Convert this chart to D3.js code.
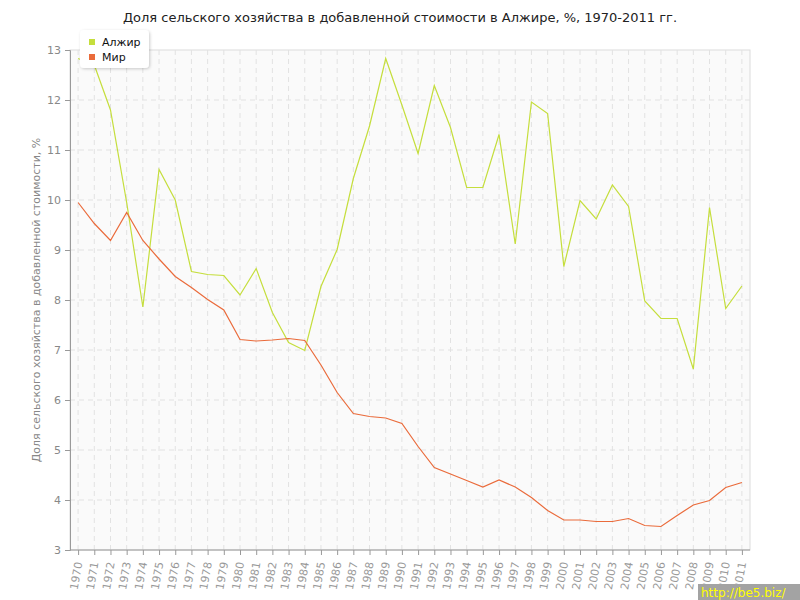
<!DOCTYPE html>
<html>
<head>
<meta charset="utf-8">
<script src="https://cdn.jsdelivr.net/npm/d3@7"></script>
<style>
  body { margin: 0; background: #fff; }
  svg { font-family: "DejaVu Sans", Verdana, sans-serif; }
</style>
</head>
<body>
<svg id="chart" width="800" height="600"></svg>
<script>
const years = d3.range(1970, 2012).map(String);
const algeria = [12.83, 12.7, 11.8, 9.95, 7.86, 10.61, 10.0, 8.57, 8.51, 8.49,
  8.1, 8.63, 7.75, 7.15, 6.99, 8.27, 9.01, 10.43, 11.48, 12.83,
  11.9, 10.93, 12.29, 11.45, 10.25, 10.25, 11.31, 9.12, 11.96, 11.73,
  8.67, 9.99, 9.62, 10.3, 9.87, 7.98, 7.63, 7.63, 6.62, 9.85,
  7.83, 8.28];
const world = [9.95, 9.53, 9.19, 9.75, 9.19, 8.82, 8.47, 8.25, 8.01, 7.8,
  7.21, 7.18, 7.2, 7.23, 7.19, 6.7, 6.15, 5.73, 5.67, 5.64,
  5.53, 5.07, 4.65, 4.52, 4.39, 4.26, 4.4, 4.26, 4.05, 3.79,
  3.6, 3.6, 3.57, 3.57, 3.63, 3.49, 3.47, 3.69, 3.9, 3.99,
  4.25, 4.35];
const yTicks = [3, 4, 5, 6, 7, 8, 9, 10, 11, 12, 13];
const seriesNames = ['Алжир', 'Мир'];
const seriesColors = ['#c5de3c', '#ea6b3b'];

const margin = {top: 50, right: 50, bottom: 50, left: 70};
const width = 800, height = 600;
const svg = d3.select('#chart');

const x = d3.scalePoint().domain(years)
  .range([margin.left, width - margin.right]).padding(0.5);
const y = d3.scaleLinear().domain([3, 13])
  .range([height - margin.bottom, margin.top]);

// plot background
svg.append('rect')
  .attr('x', margin.left).attr('y', margin.top)
  .attr('width', width - margin.left - margin.right)
  .attr('height', height - margin.top - margin.bottom)
  .attr('fill', '#fafafa')
  .attr('stroke', '#dcdcdc');

// grid
svg.append('g').selectAll('line').data(years).join('line')
  .attr('x1', d => x(d)).attr('x2', d => x(d))
  .attr('y1', margin.top).attr('y2', height - margin.bottom)
  .attr('stroke', '#e2e2e2').attr('stroke-dasharray', '5,4');
svg.append('g').selectAll('line').data(yTicks.slice(1, -1)).join('line')
  .attr('x1', margin.left).attr('x2', width - margin.right)
  .attr('y1', d => y(d)).attr('y2', d => y(d))
  .attr('stroke', '#e2e2e2').attr('stroke-dasharray', '5,4');

// axes
const yAxis = svg.append('g')
  .attr('transform', `translate(${margin.left},0)`)
  .call(d3.axisLeft(y).tickValues(yTicks).tickSize(5).tickPadding(4));
yAxis.select('.domain').attr('stroke', '#999');
yAxis.selectAll('.tick line').attr('stroke', '#999');
yAxis.selectAll('text').attr('fill', '#888').attr('font-size', 11)
  .attr('font-family', '"DejaVu Sans", sans-serif');

const xAxis = svg.append('g')
  .attr('transform', `translate(0,${height - margin.bottom})`)
  .call(d3.axisBottom(x).tickSize(5).tickSizeOuter(0));
xAxis.select('.domain').attr('stroke', '#999')
  .attr('d', `M${margin.left},0H${width - margin.right}`);
xAxis.selectAll('.tick line').attr('stroke', '#999');
xAxis.selectAll('text')
  .attr('fill', '#999').attr('font-size', 11)
  .attr('font-family', '"DejaVu Sans", sans-serif')
  .attr('text-anchor', 'end')
  .attr('dy', '0.35em')
  .attr('transform', 'translate(0,12) rotate(-80)')
  .attr('y', 0).attr('x', 0);

// lines
const line = d3.line().x((d, i) => x(years[i])).y(d => y(d));
[algeria, world].forEach((vals, k) => {
  svg.append('path').datum(vals)
    .attr('fill', 'none')
    .attr('stroke', seriesColors[k])
    .attr('stroke-width', 1.2)
    .attr('d', line);
});

// title
svg.append('text')
  .attr('x', 400).attr('y', 22)
  .attr('text-anchor', 'middle')
  .attr('font-size', 13).attr('fill', '#222')
  .text('Доля сельского хозяйства в добавленной стоимости в Алжире, %, 1970-2011 гг.');

// y label
svg.append('text')
  .attr('transform', `translate(40,${(margin.top + height - margin.bottom) / 2}) rotate(-90)`)
  .attr('text-anchor', 'middle')
  .attr('font-size', 11).attr('fill', '#888')
  .text('Доля сельского хозяйства в добавленной стоимости, %');

// legend
const defs = svg.append('defs');
const f = defs.append('filter').attr('id', 'sh').attr('x', '-20%').attr('y', '-20%')
  .attr('width', '140%').attr('height', '140%');
f.append('feDropShadow').attr('dx', 1).attr('dy', 1).attr('stdDeviation', 1.5)
  .attr('flood-color', '#000').attr('flood-opacity', 0.2);
const lg = svg.append('g').attr('transform', 'translate(80,30)');
lg.append('rect').attr('width', 69).attr('height', 38).attr('rx', 4)
  .attr('fill', '#fff').attr('filter', 'url(#sh)');
seriesNames.forEach((n, i) => {
  lg.append('rect').attr('x', 9).attr('y', 9 + i * 15 - 0).attr('width', 6).attr('height', 6)
    .attr('fill', seriesColors[i]);
  lg.append('text').attr('x', 22).attr('y', 16 + i * 15)
    .attr('font-size', 11).attr('fill', '#111').text(n);
});

// watermark
const wm = svg.append('g').attr('transform', 'translate(698,584)');
wm.append('rect').attr('width', 102).attr('height', 16).attr('fill', '#a3a3a3');
wm.append('text').attr('x', 3).attr('y', 13)
  .attr('font-size', 12).attr('fill', '#ffff00').text('http://be5.biz/');
</script>
</body>
</html>
